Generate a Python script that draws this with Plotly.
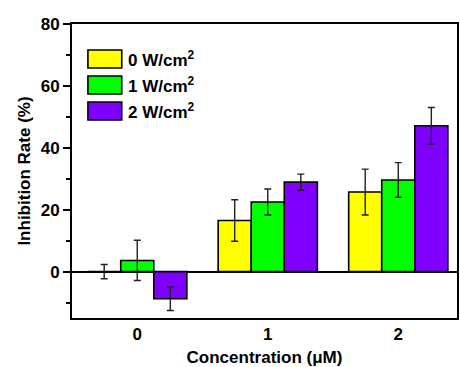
import plotly.graph_objects as go

categories = ["0", "1", "2"]
series_names = ["0 W/cm<sup>2</sup>", "1 W/cm<sup>2</sup>", "2 W/cm<sup>2</sup>"]
series_colors = ["#FFFF00", "#00FF00", "#7F00FF"]
values_0W = [0.0, 16.5, 25.7]
values_1W = [3.6, 22.5, 29.6]
values_2W = [-8.8, 28.9, 47.1]
errors_0W = [2.3, 6.7, 7.4]
errors_1W = [6.5, 4.2, 5.6]
errors_2W = [3.8, 2.6, 5.9]
y_tick_vals = [0, 20, 40, 60, 80]
x_positions = [0, 1, 2]

values = [values_0W, values_1W, values_2W]
errors = [errors_0W, errors_1W, errors_2W]

FONT = "Liberation Sans, Arial, sans-serif"

fig = go.Figure()
for name, color, v, e in zip(series_names, series_colors, values, errors):
    fig.add_trace(go.Bar(
        x=x_positions, y=v, name=name,
        marker=dict(color=color, line=dict(color="black", width=1.6)),
        error_y=dict(type="data", array=e, visible=True, color="#222222",
                     thickness=1.4, width=3.5),
        showlegend=False,
    ))

# Custom legend (wide boxes like the reference)
legend_top_px = 50
row_pitch = 26
plot_top = 24
plot_h = 367 - 24 - 49
for i, (name, color) in enumerate(zip(series_names, series_colors)):
    y0 = legend_top_px + i * row_pitch
    y1 = y0 + 18
    fy0 = 1 - (y1 - plot_top) / plot_h
    fy1 = 1 - (y0 - plot_top) / plot_h
    fig.add_shape(type="rect", xref="paper", yref="paper",
                  x0=(88 - 72) / 387, x1=(122 - 72) / 387, y0=fy0, y1=fy1,
                  fillcolor=color, line=dict(color="black", width=1.6))
    fig.add_annotation(xref="paper", yref="paper", x=(126 - 72) / 387,
                       y=(fy0 + fy1) / 2, xanchor="left", yanchor="middle",
                       text="<b>" + name + "</b>", showarrow=False,
                       font=dict(family=FONT, size=17, color="black"))

fig.update_layout(
    width=460, height=367,
    margin=dict(l=72, r=1, t=24, b=49),
    paper_bgcolor="white", plot_bgcolor="white",
    barmode="group", bargap=0.24, bargroupgap=0,
    font=dict(family=FONT, size=17, color="black"),
    showlegend=False,
)
fig.update_xaxes(
    range=[-0.5, 2.45], tickvals=x_positions,
    ticktext=["<b>" + c + "</b>" for c in categories],
    showline=True, linecolor="black", linewidth=2, mirror=True,
    ticks="", showgrid=False, zeroline=False,
    title=dict(text="<b>Concentration (\u03bcM)</b>", font=dict(size=17), standoff=9),
    tickfont=dict(size=17),
)
fig.update_yaxes(
    range=[-15, 80], tickvals=y_tick_vals,
    ticktext=["<b>%d</b>" % t for t in y_tick_vals],
    showline=True, linecolor="black", linewidth=2, mirror=True,
    ticks="outside", ticklen=7, tickwidth=1.5, tickcolor="black",
    minor=dict(tickvals=[-10, 10, 30, 50, 70], ticks="outside", ticklen=4,
               tickwidth=1.5, tickcolor="black", showgrid=False),
    showgrid=False, zeroline=True, zerolinecolor="black", zerolinewidth=1.6,
    title=dict(text="<b>Inhibition Rate (%)</b>", font=dict(size=17), standoff=6),
    tickfont=dict(size=17),
)

fig.write_html("out.html")
